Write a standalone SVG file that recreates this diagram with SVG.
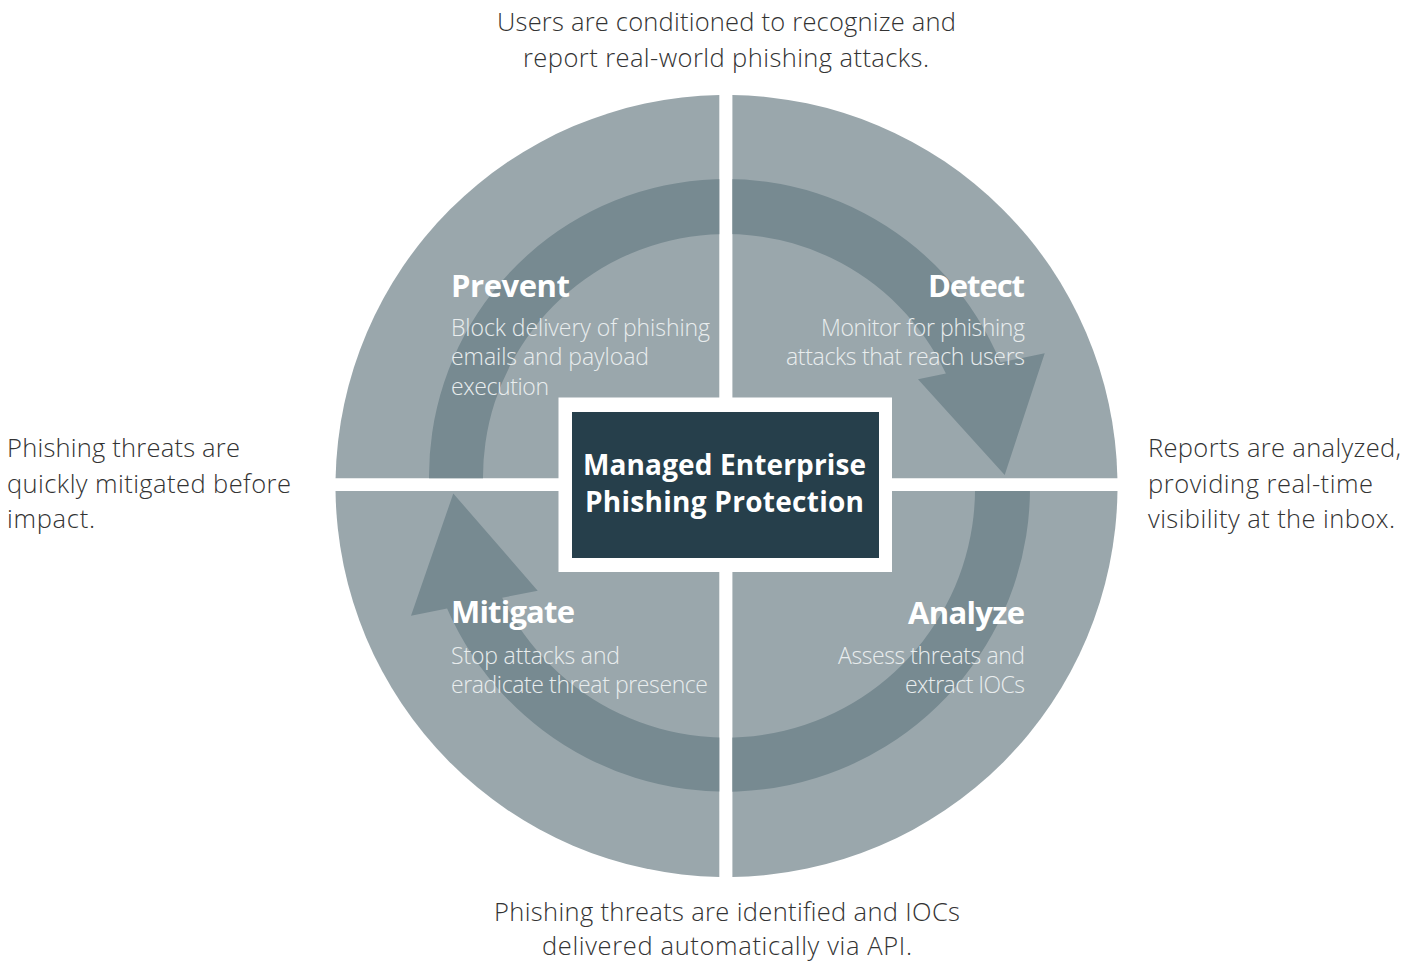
<svg xmlns="http://www.w3.org/2000/svg" width="1416" height="961" viewBox="0 0 1416 961">
<style>
.q{fill:#9aa7ac}
.arr{fill:#778a91}
text{font-family:"Open Sans","Noto Sans","Liberation Sans",sans-serif}
.outer{font-size:25.5px;font-weight:300;fill:#333333}
.head{font-size:31px;font-weight:700;fill:#ffffff}
.desc{font-size:23px;font-weight:300;fill:#e9edee}
.title{font-size:28px;font-weight:700;fill:#ffffff}
</style>
<defs>
<clipPath id="quads">
<rect x="0" y="0" width="719.3" height="478.3"/>
<rect x="732.4" y="0" width="683.6" height="478.3"/>
<rect x="0" y="491" width="719.3" height="470"/>
<rect x="732.4" y="491" width="683.6" height="470"/>
</clipPath>
</defs>

<g id="prevent">
<path class="q" d="M719.3,478.3 L335.58,478.3 A391,391 0 0 1 719.3,95.07 Z"/>
</g>
<g id="detect">
<path class="q" d="M732.4,478.3 L732.4,95.04 A391,391 0 0 1 1117.42,478.3 Z"/>
</g>
<g id="analyze">
<path class="q" d="M732.4,491 L1117.47,491 A391,391 0 0 1 732.4,876.96 Z"/>
</g>
<g id="mitigate">
<path class="q" d="M719.3,491 L719.3,876.93 A391,391 0 0 1 335.53,491 Z"/>
</g>

<g id="connectors" clip-path="url(#quads)">
<path class="arr" d="M429.1,484 A297,297 0 0 1 1000.4,362.4 L1044.7,353.3 L1004.7,475 L918,379.3 L945.9,373.6 A243,243 0 0 0 483.1,484 Z"/>
<path class="arr" d="M1030,484 A304,304 0 0 1 447.1,608.6 L411,615.7 L453.3,493.5 L537.7,590.7 L502.2,597.7 A249,249 0 0 0 975,484 Z"/>
</g>

<g id="center">
<rect x="558.5" y="397.5" width="333.5" height="174.5" fill="#ffffff"/>
<rect x="572" y="412" width="307" height="146" fill="#263f4b"/>
<text class="title" x="724.5" y="475" text-anchor="middle" textLength="283" lengthAdjust="spacing">Managed Enterprise</text>
<text class="title" x="724.5" y="511.7" text-anchor="middle" textLength="279" lengthAdjust="spacing">Phishing Protection</text>
</g>

<g id="prevent-label">
<text class="head" x="451" y="297" textLength="119" lengthAdjust="spacing">Prevent</text>
<text class="desc" x="451" y="336" textLength="259" lengthAdjust="spacing">Block delivery of phishing</text>
<text class="desc" x="451" y="365" textLength="198" lengthAdjust="spacing">emails and payload</text>
<text class="desc" x="451" y="394.5" textLength="98" lengthAdjust="spacing">execution</text>
</g>
<g id="detect-label">
<text class="head" x="1025" y="297" text-anchor="end" textLength="97" lengthAdjust="spacing">Detect</text>
<text class="desc" x="1025" y="336" text-anchor="end" textLength="204" lengthAdjust="spacing">Monitor for phishing</text>
<text class="desc" x="1025" y="365" text-anchor="end" textLength="239" lengthAdjust="spacing">attacks that reach users</text>
</g>
<g id="analyze-label">
<text class="head" x="1025" y="624" text-anchor="end" textLength="117" lengthAdjust="spacing">Analyze</text>
<text class="desc" x="1025" y="664" text-anchor="end" textLength="187" lengthAdjust="spacing">Assess threats and</text>
<text class="desc" x="1025" y="693" text-anchor="end" textLength="120" lengthAdjust="spacing">extract IOCs</text>
</g>
<g id="mitigate-label">
<text class="head" x="451" y="623" textLength="124" lengthAdjust="spacing">Mitigate</text>
<text class="desc" x="451" y="664" textLength="169" lengthAdjust="spacing">Stop attacks and</text>
<text class="desc" x="451" y="693" textLength="257" lengthAdjust="spacing">eradicate threat presence</text>
</g>

<g id="outcome-top">
<text class="outer" x="726.5" y="31" text-anchor="middle" textLength="459" lengthAdjust="spacing">Users are conditioned to recognize and</text>
<text class="outer" x="726" y="67" text-anchor="middle" textLength="406" lengthAdjust="spacing">report real-world phishing attacks.</text>
</g>
<g id="outcome-right">
<text class="outer" x="1148" y="457" textLength="253" lengthAdjust="spacing">Reports are analyzed,</text>
<text class="outer" x="1148" y="493" textLength="225" lengthAdjust="spacing">providing real-time</text>
<text class="outer" x="1148" y="528" textLength="247" lengthAdjust="spacing">visibility at the inbox.</text>
</g>
<g id="outcome-left">
<text class="outer" x="7" y="457" textLength="233" lengthAdjust="spacing">Phishing threats are</text>
<text class="outer" x="7" y="493" textLength="284" lengthAdjust="spacing">quickly mitigated before</text>
<text class="outer" x="7" y="528" textLength="88" lengthAdjust="spacing">impact.</text>
</g>
<g id="outcome-bottom">
<text class="outer" x="727" y="921" text-anchor="middle" textLength="466" lengthAdjust="spacing">Phishing threats are identified and IOCs</text>
<text class="outer" x="727" y="955" text-anchor="middle" textLength="370" lengthAdjust="spacing">delivered automatically via API.</text>
</g>
</svg>
